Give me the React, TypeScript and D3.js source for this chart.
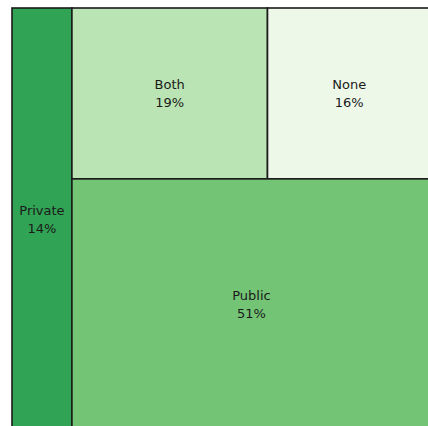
import React from "react";
import * as d3 from "d3";

const labels = ["Private", "Both", "None", "Public"];
const shares = [14.3, 18.9, 15.8, 51.0];
const colors = ["#31a354", "#bae4b3", "#edf8e9", "#74c476"];

const W = 428;
const H = 426;
const X0 = 12;
const Y0 = 8;
const X1 = 431;
const Y1 = 430;

type Node = { name: string; value?: number; children?: Node[] };

export default function App() {
  const v = (n: string) => shares[labels.indexOf(n)];
  const data: Node = {
    name: "root",
    children: [
      { name: "Private", value: v("Private") },
      {
        name: "rest",
        children: [
          {
            name: "top",
            children: [
              { name: "Both", value: v("Both") },
              { name: "None", value: v("None") },
            ],
          },
          { name: "Public", value: v("Public") },
        ],
      },
    ],
  };
  const root = d3.hierarchy<Node>(data).sum((d) => d.value || 0);
  d3
    .treemap<Node>()
    .tile(d3.treemapSliceDice)
    .size([X1 - X0, Y1 - Y0])(root);
  const leaves = root.leaves() as d3.HierarchyRectangularNode<Node>[];
  const color = d3.scaleOrdinal<string, string>().domain(labels).range(colors);

  return (
    <svg
      width={W}
      height={H}
      style={{ position: "absolute", left: 0, top: 0, display: "block" }}
      fontFamily="DejaVu Sans"
      fontSize={13}
    >
      <g transform={`translate(${X0},${Y0})`}>
        {leaves.map((l) => {
          const cx = (l.x0 + l.x1) / 2;
          const cy = (l.y0 + l.y1) / 2;
          return (
            <g key={l.data.name}>
              <rect
                x={l.x0}
                y={l.y0}
                width={l.x1 - l.x0}
                height={l.y1 - l.y0}
                fill={color(l.data.name)}
                stroke="#1a1a1a"
                strokeWidth={1.6}
              />
              <text x={cx} y={cy - 4.5} textAnchor="middle" fill="#1a1a1a">
                {l.data.name}
              </text>
              <text x={cx} y={cy + 13.8} textAnchor="middle" fill="#1a1a1a">
                {`${Math.round(l.data.value || 0)}%`}
              </text>
            </g>
          );
        })}
      </g>
    </svg>
  );
}
